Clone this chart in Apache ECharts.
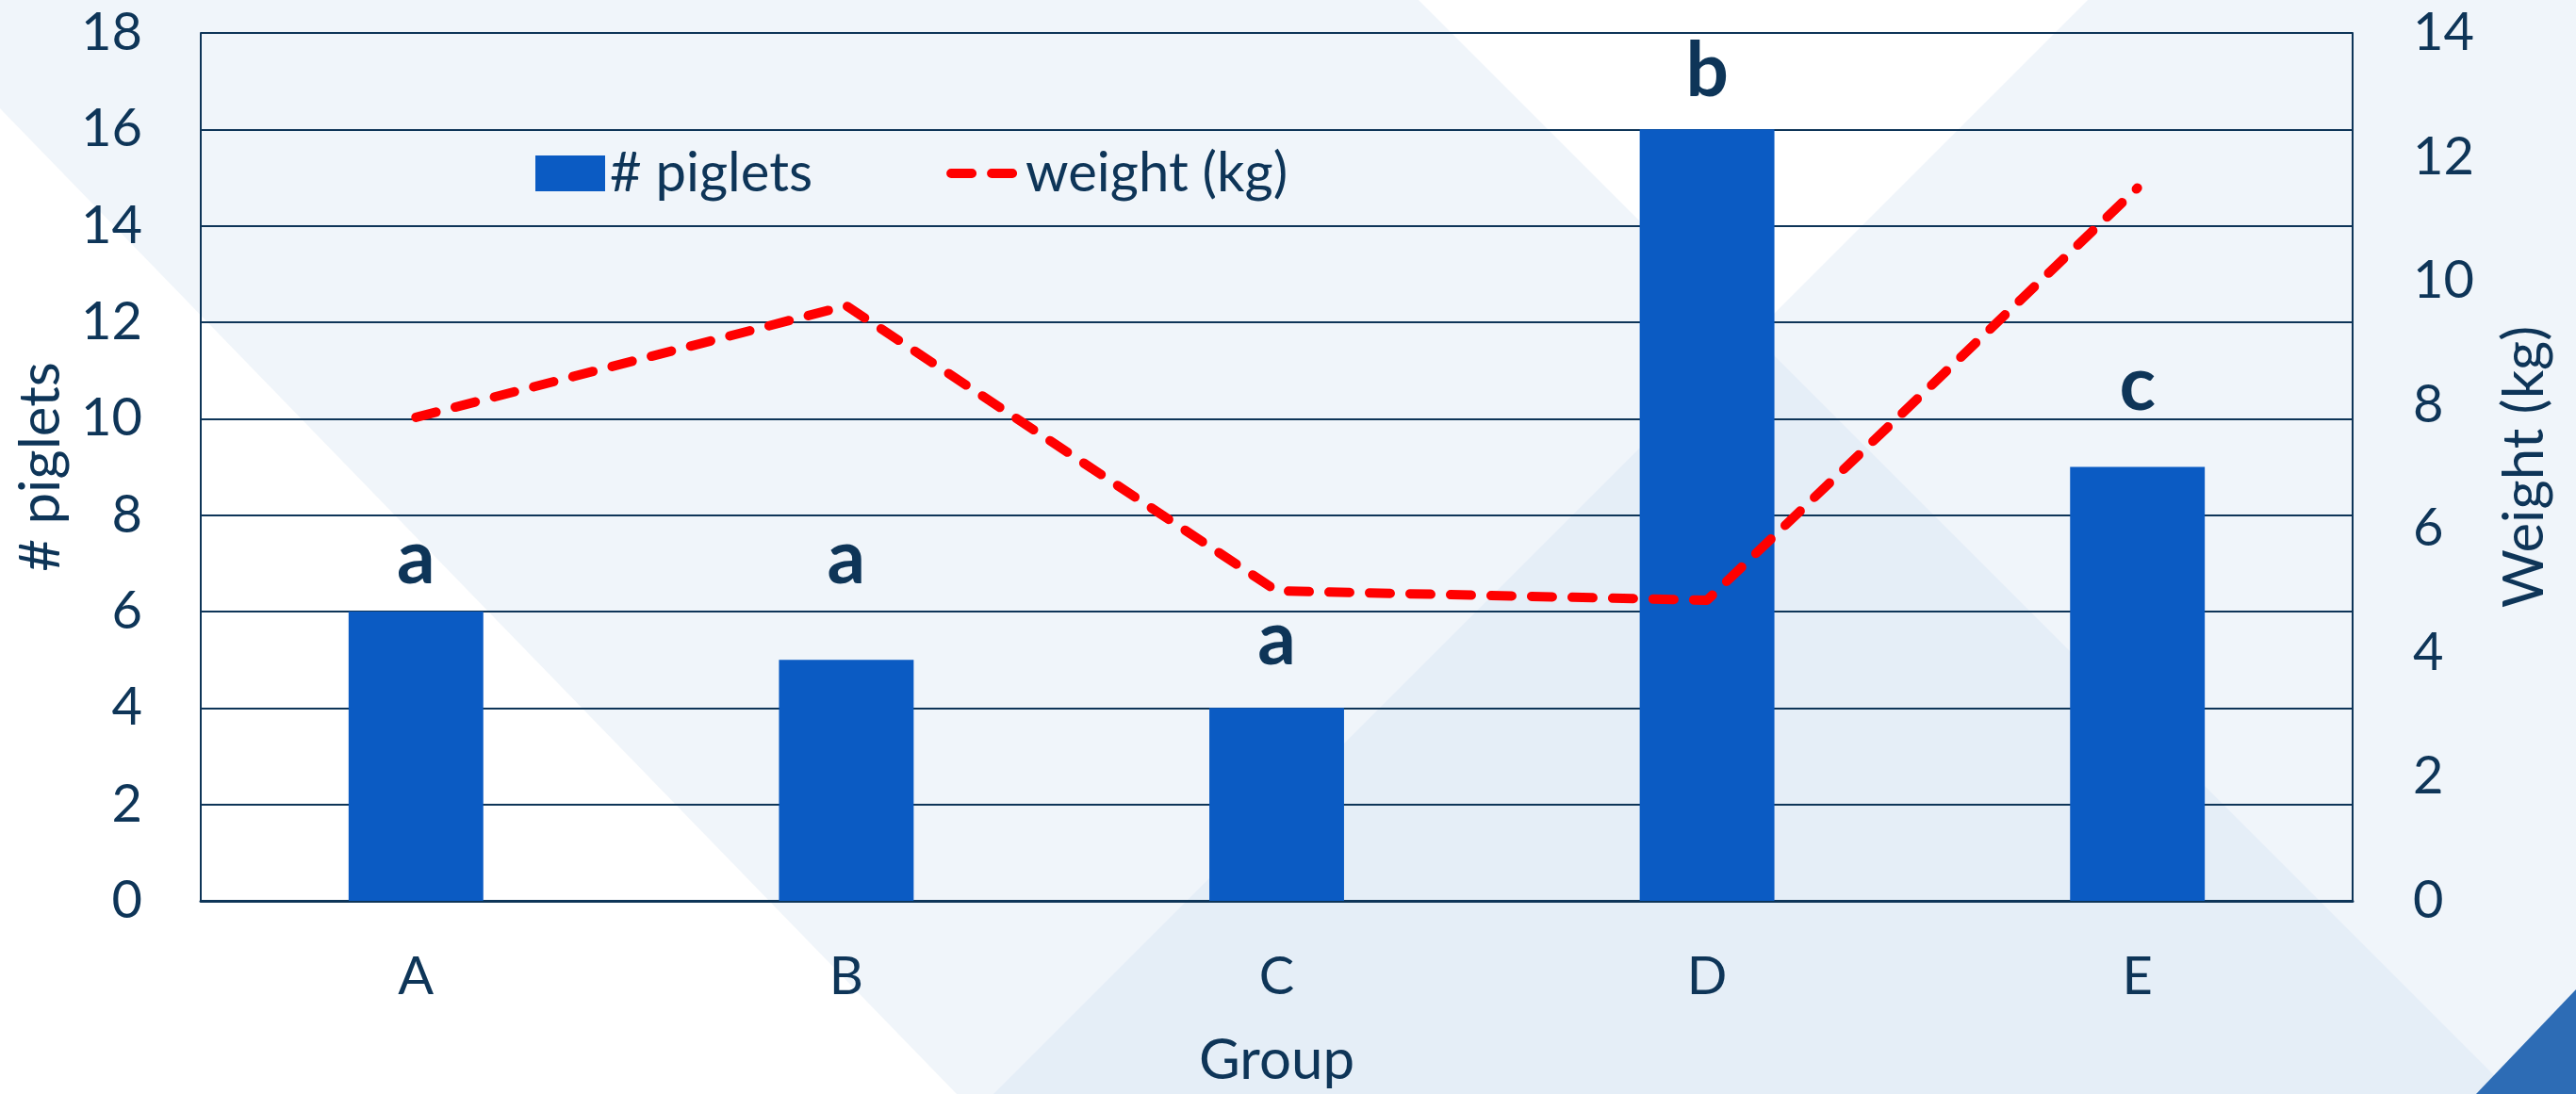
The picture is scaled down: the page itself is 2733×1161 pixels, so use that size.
<!DOCTYPE html>
<html>
<head>
<meta charset="utf-8">
<title># piglets and weight by group</title>
<script src="https://cdn.jsdelivr.net/npm/echarts@6/dist/echarts.min.js"></script>
<style>
  html, body { margin: 0; padding: 0; background: #F0F5FA; }
  #chart { width: 2733px; height: 1161px; }
</style>
</head>
<body>
<div id="chart"></div>
<script>
// Data
const groups = ['A', 'B', 'C', 'D', 'E'];
const piglets = [6, 5, 4, 16, 9];
const weightKg = [7.8, 9.6, 5.0, 4.85, 11.5];
const letters = ['a', 'a', 'a', 'b', 'c'];

const NAVY = '#0E3558';
const FONT = 'Lato, "Open Sans", sans-serif';

// Extra lift (px) for each significance letter above its bar
const letterLift = [0, 51, 16, 5, 30];

const chart = echarts.init(document.getElementById('chart'), null, { renderer: 'canvas' });

// Decorative backdrop panels
const backdrop = [
  { points: [[0, 115], [1015, 1161], [0, 1161]], fill: '#FFFFFF' },
  { points: [[1505, 0], [2215, 0], [1860, 355]], fill: '#FFFFFF' },
  { points: [[1860, 355], [1054, 1161], [2666, 1161]], fill: '#E5EEF7' },
  { points: [[2627, 1161], [2733, 1161], [2733, 1050]], fill: '#2D6CB5' }
];

const option = {
  backgroundColor: '#F0F5FA',
  textStyle: { fontFamily: FONT, color: NAVY },
  graphic: backdrop.map(p => ({
    type: 'polygon',
    silent: true,
    z: -100,
    shape: { points: p.points },
    style: { fill: p.fill }
  })),
  grid: { left: 213, right: 237, top: 35, bottom: 201, containLabel: false },
  legend: {
    left: 568,
    top: 155,
    padding: 0,
    itemWidth: 74,
    itemHeight: 38,
    itemGap: 142,
    textStyle: { fontFamily: FONT, fontSize: 58, color: NAVY },
    data: [
      { name: '# piglets', icon: 'rect' },
      {
        name: 'weight (kg)',
        itemStyle: { opacity: 0 },
        lineStyle: { width: 10, type: [22, 21], cap: 'round', color: '#FF0000' }
      }
    ]
  },
  xAxis: {
    type: 'category',
    data: groups,
    name: 'Group',
    nameLocation: 'middle',
    nameGap: 140,
    nameTextStyle: { fontFamily: FONT, fontSize: 60, color: NAVY },
    axisLine: { show: true, lineStyle: { color: NAVY, width: 3 } },
    axisTick: { show: false },
    axisLabel: { fontFamily: FONT, fontSize: 56, color: NAVY, margin: 53 }
  },
  yAxis: [
    {
      type: 'value',
      min: 0, max: 18, interval: 2,
      name: '# piglets',
      nameLocation: 'middle',
      nameRotate: 90,
      nameGap: 139,
      nameTextStyle: { fontFamily: FONT, fontSize: 60, color: NAVY },
      axisLine: { show: true, lineStyle: { color: NAVY, width: 2 } },
      axisTick: { show: false },
      axisLabel: { fontFamily: FONT, fontSize: 56, color: NAVY, margin: 62 },
      splitLine: { show: true, lineStyle: { color: NAVY, width: 2 } }
    },
    {
      type: 'value',
      min: 0, max: 14, interval: 2,
      name: 'Weight (kg)',
      nameLocation: 'middle',
      nameRotate: 90,
      nameGap: 153,
      nameTextStyle: { fontFamily: FONT, fontSize: 60, color: NAVY },
      axisLine: { show: true, lineStyle: { color: NAVY, width: 2 } },
      axisTick: { show: false },
      axisLabel: { fontFamily: FONT, fontSize: 56, color: NAVY, margin: 64 },
      splitLine: { show: false }
    }
  ],
  series: [
    {
      name: '# piglets',
      type: 'bar',
      yAxisIndex: 0,
      data: piglets.map((v, i) => ({
        value: v,
        label: { offset: [0, -letterLift[i]] }
      })),
      barWidth: '31.3%',
      itemStyle: { color: '#0B5BC3' },
      label: {
        show: true,
        position: 'top',
        distance: 16,
        fontFamily: FONT,
        fontSize: 80,
        fontWeight: 'bold',
        color: NAVY,
        formatter: p => letters[p.dataIndex]
      },
      z: 2
    },
    {
      name: 'weight (kg)',
      type: 'line',
      yAxisIndex: 1,
      data: weightKg,
      symbol: 'none',
      lineStyle: { color: '#FF0000', width: 10, type: [22, 21], cap: 'round', join: 'round' },
      itemStyle: { color: '#FF0000' },
      z: 3
    }
  ]
};

chart.setOption(option);
</script>
</body>
</html>
